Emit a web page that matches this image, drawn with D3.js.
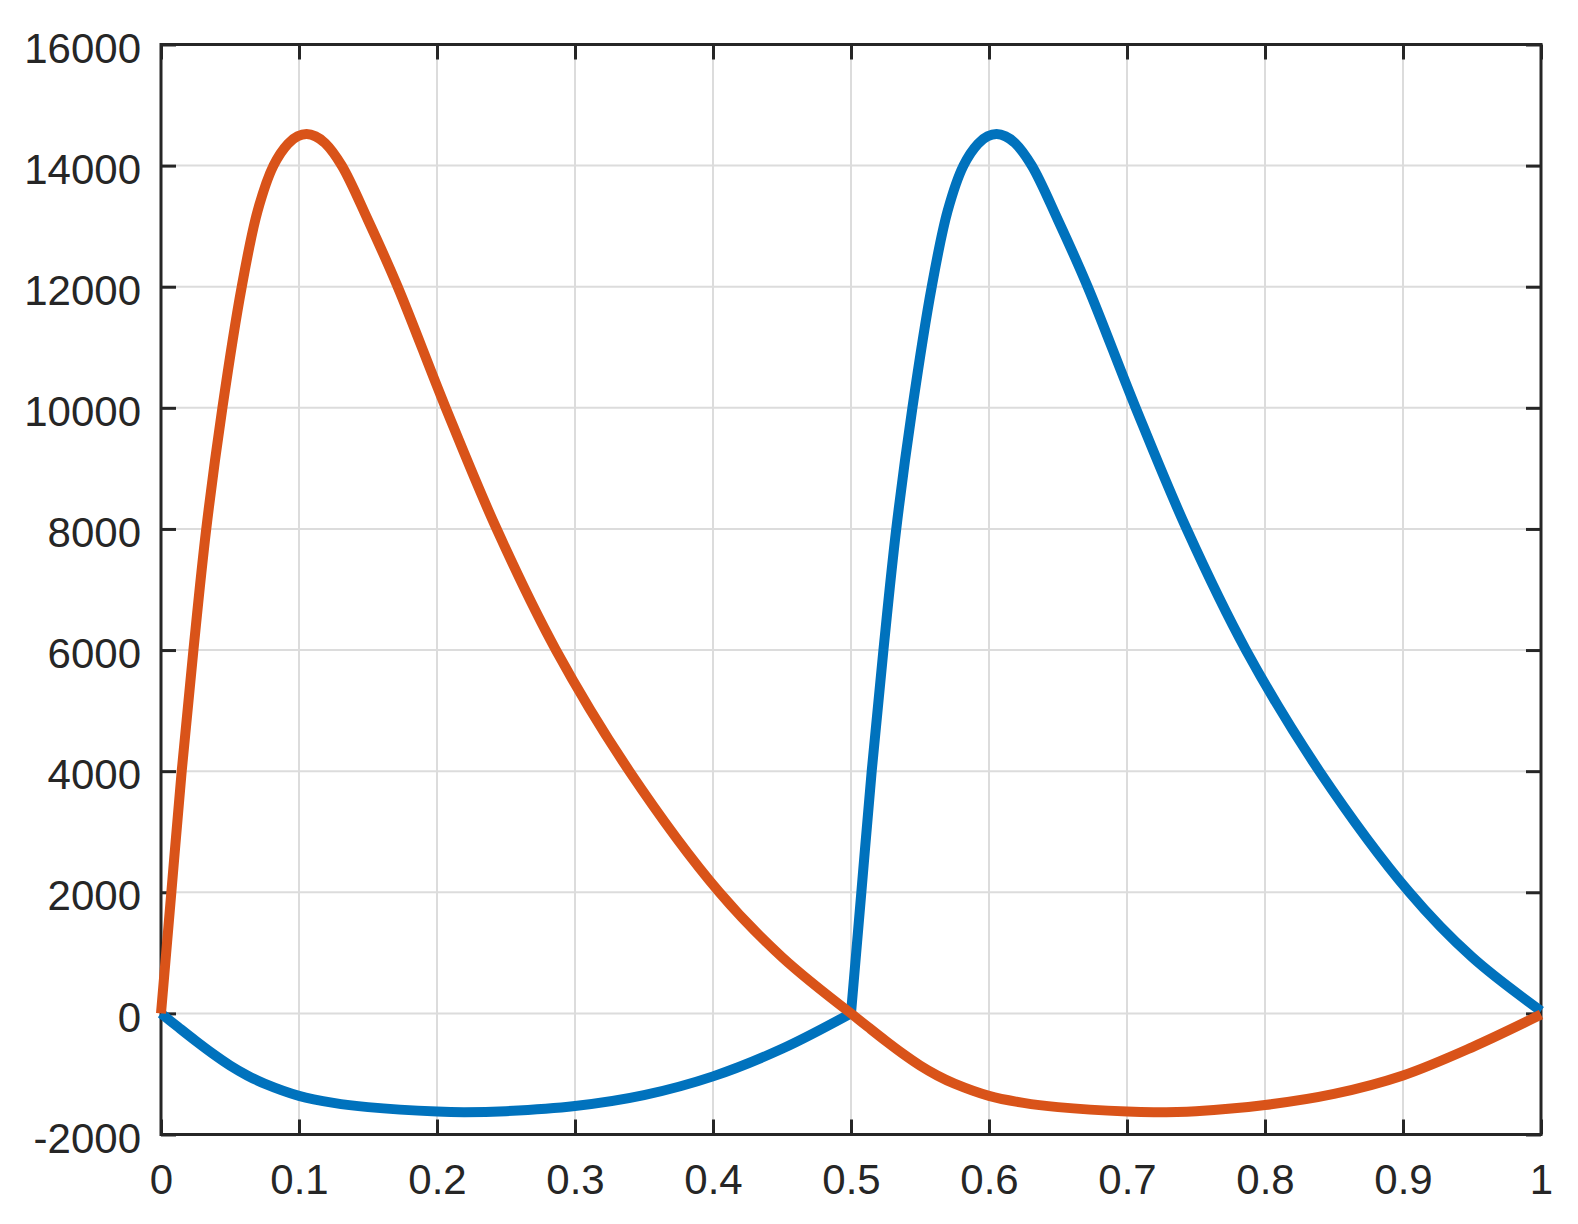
<!DOCTYPE html>
<meta charset="utf-8">
<style>
body {
  margin: 0;
  background: #fff;
}
.tick-label {
  font-family: "Liberation Sans", Arial, sans-serif;
  font-size: 42px;
  fill: #262626;
}
</style>
<body>
<svg id="chart" width="1578" height="1224"></svg>
<script src="https://d3js.org/d3.v7.min.js"></script>
<script>

// values
var blueX = [0, 0.0125, 0.025, 0.0375, 0.05, 0.0625, 0.075, 0.1, 0.125, 0.15, 0.2, 0.22, 0.25,
             0.3, 0.35, 0.4, 0.45, 0.5,
             0.5075, 0.515, 0.5235, 0.5328, 0.5445, 0.5585, 0.57, 0.5815, 0.592, 0.599, 0.6055,
             0.612, 0.619, 0.631, 0.65, 0.6715, 0.7063, 0.7432, 0.7862, 0.8394, 0.9046, 0.95, 1.0];
var blueY = [0, -228, -452, -665, -860, -1025, -1160, -1362, -1478, -1548, -1622, -1632, -1615,
             -1530, -1350, -1040, -585, 0,
             2000, 4000, 6000, 8000, 10000, 12000, 13250, 14000, 14360, 14483, 14520,
             14483, 14370, 14000, 13100, 12000, 10000, 8000, 6000, 4000, 2000, 930, 40];

var orangeX = [0, 0.0075, 0.015, 0.0235, 0.0328, 0.0445, 0.0585, 0.07, 0.0815, 0.092, 0.099, 0.1055,
               0.112, 0.119, 0.131, 0.15, 0.1715, 0.2063, 0.2432, 0.2862, 0.3394, 0.4046, 0.45, 0.5,
               0.5125, 0.525, 0.5375, 0.55, 0.5625, 0.575, 0.6, 0.625, 0.65, 0.7, 0.72, 0.75,
               0.8, 0.85, 0.9, 0.95, 1.0];
var orangeY = [0, 2000, 4000, 6000, 8000, 10000, 12000, 13250, 14000, 14360, 14483, 14520,
               14483, 14370, 14000, 13100, 12000, 10000, 8000, 6000, 4000, 2000, 930, 0,
               -228, -452, -665, -860, -1025, -1160, -1362, -1478, -1548, -1622, -1632, -1615,
               -1513, -1330, -1025, -560, -20];

var xTicks = [0, 0.1, 0.2, 0.3, 0.4, 0.5, 0.6, 0.7, 0.8, 0.9, 1];
var xTickLabels = ["0", "0.1", "0.2", "0.3", "0.4", "0.5", "0.6", "0.7", "0.8", "0.9", "1"];
var yTicks = [-2000, 0, 2000, 4000, 6000, 8000, 10000, 12000, 14000, 16000];
var yTickLabels = ["-2000", "0", "2000", "4000", "6000", "8000", "10000", "12000", "14000", "16000"];

var plotLeft = 161, plotRight = 1541, plotTop = 44.5, plotBottom = 1134.5;
var axisColor = "#262626";

var x = d3.scaleLinear().domain([0, 1]).range([plotLeft, plotRight]);
var y = d3.scaleLinear().domain([-2000, 16000]).range([plotBottom, plotTop]);

var svg = d3.select("#chart");
svg.append("rect").attr("width", 1578).attr("height", 1224).attr("fill", "#fff");

// grid
var grid = svg.append("g").attr("stroke", "#dcdcdc").attr("stroke-width", 2);
grid.selectAll(".gx")
    .data(xTicks.slice(1, -1))
    .enter().append("line")
    .attr("x1", d => x(d)).attr("x2", d => x(d))
    .attr("y1", plotTop).attr("y2", plotBottom);
grid.selectAll(".gy")
    .data(yTicks.slice(1, -1))
    .enter().append("line")
    .attr("y1", d => y(d)).attr("y2", d => y(d))
    .attr("x1", plotLeft).attr("x2", plotRight);

// axes: bottom/left with labels, top/right mirrored ticks only
var tickLen = 15;
var xAxis = d3.axisBottom(x).tickValues(xTicks).tickSize(-tickLen)
              .tickFormat((d, i) => xTickLabels[i]).tickPadding(30);
var xAxisTop = d3.axisTop(x).tickValues(xTicks).tickSize(-tickLen).tickFormat("");
var yAxis = d3.axisLeft(y).tickValues(yTicks).tickSize(-tickLen)
              .tickFormat((d, i) => yTickLabels[i]).tickPadding(20);
var yAxisRight = d3.axisRight(y).tickValues(yTicks).tickSize(-tickLen).tickFormat("");

function styleAxis(g) {
  g.select(".domain").remove();
  g.selectAll(".tick line").attr("stroke", axisColor).attr("stroke-width", 3);
  g.selectAll(".tick text").attr("class", "tick-label").attr("fill", axisColor);
}

svg.append("g").attr("transform", "translate(0," + plotBottom + ")").call(xAxis).call(styleAxis)
   .selectAll(".tick-label").attr("dy", "0.71em");
svg.append("g").attr("transform", "translate(0," + plotTop + ")").call(xAxisTop).call(styleAxis);
svg.append("g").attr("transform", "translate(" + plotLeft + ",0)").call(yAxis).call(styleAxis)
   .selectAll(".tick-label").attr("dy", "0.42em");
svg.append("g").attr("transform", "translate(" + plotRight + ",0)").call(yAxisRight).call(styleAxis);

svg.append("rect")
   .attr("x", plotLeft).attr("y", plotTop)
   .attr("width", plotRight - plotLeft).attr("height", plotBottom - plotTop)
   .attr("fill", "none").attr("stroke", axisColor).attr("stroke-width", 3);

// split a series at interior zeros so the kink stays sharp,
// then join the pieces into one continuous path
var line = d3.line().x(d => x(d[0])).y(d => y(d[1])).curve(d3.curveCatmullRom.alpha(0.5));

function seriesPath(xs, ys) {
  var pts = xs.map((v, i) => [v, ys[i]]);
  var pieces = [], cur = [];
  pts.forEach(function(p, i) {
    cur.push(p);
    if (p[1] === 0 && i > 0 && i < pts.length - 1) {
      pieces.push(cur);
      cur = [p];
    }
  });
  pieces.push(cur);
  return pieces.map((pc, i) => {
    var s = line(pc);
    return i === 0 ? s : "L" + s.slice(1);
  }).join("");
}

svg.append("path")
   .attr("d", seriesPath(blueX, blueY))
   .attr("fill", "none").attr("stroke", "#0072BD")
   .attr("stroke-width", 10).attr("stroke-linejoin", "round");

svg.append("path")
   .attr("d", seriesPath(orangeX, orangeY))
   .attr("fill", "none").attr("stroke", "#D95319")
   .attr("stroke-width", 10).attr("stroke-linejoin", "round");

</script>
</body>
